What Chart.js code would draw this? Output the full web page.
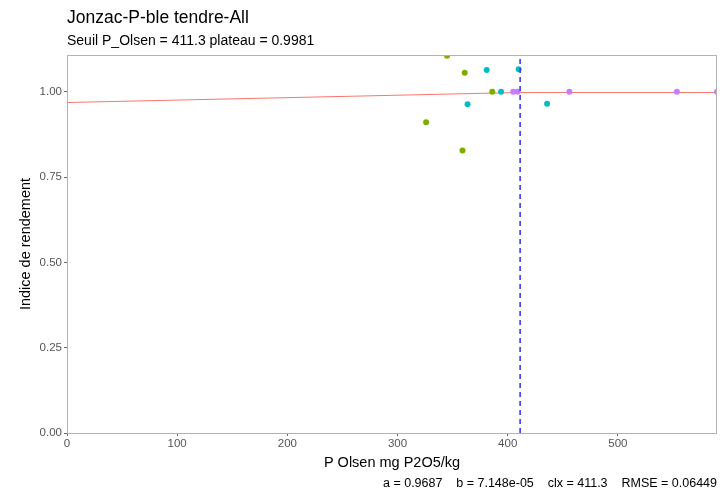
<!DOCTYPE html>
<html>
<head>
<meta charset="utf-8">
<script src="https://cdn.jsdelivr.net/npm/chart.js@4"></script>
<style>
  html, body { margin: 0; padding: 0; background: #fff; }
  #wrap { width: 720px; height: 492px; position: relative; }
</style>
</head>
<body>
<div id="wrap"><canvas id="chart"></canvas></div>
<script>
// ---- Data ----
const olivePts = [
  { x: 345, y: 1.106 }, { x: 361, y: 1.056 }, { x: 386, y: 1.0 },
  { x: 326, y: 0.911 }, { x: 359, y: 0.828 }
];
const cyanPts = [
  { x: 381, y: 1.064 }, { x: 410, y: 1.066 }, { x: 394, y: 1.0 },
  { x: 363.6, y: 0.964 }, { x: 435.8, y: 0.965 }
];
const purplePts = [
  { x: 405, y: 1.0 }, { x: 409, y: 1.0 }, { x: 456, y: 1.0 },
  { x: 553.6, y: 1.0 }, { x: 590, y: 1.0 }
];
// linear-plateau fit: a + b*x up to clx, then plateau
const fitLine = [ { x: 0, y: 0.9687 }, { x: 411.3, y: 0.9981 }, { x: 590, y: 0.9981 } ];
const seuilLine = [ { x: 411.3, y: 0 }, { x: 411.3, y: 1.108 } ];

const xTicks = [0, 100, 200, 300, 400, 500];
const yTicks = [0, 0.25, 0.5, 0.75, 1.0];

const titleText    = 'Jonzac-P-ble tendre-All';
const subtitleText = 'Seuil P_Olsen = 411.3 plateau = 0.9981';
const captionText  = 'a = 0.9687    b = 7.148e-05    clx = 411.3    RMSE = 0.06449';
const xTitle = 'P Olsen mg P2O5/kg';
const yTitle = 'Indice de rendement';

const FONT = '"Liberation Sans", Arial, sans-serif';

// ---- Texts + panel border drawn by hand (ggplot look) ----
const decor = {
  id: 'decor',
  afterDraw(chart) {
    const ctx = chart.ctx;
    const a = chart.chartArea;
    ctx.save();
    // panel border
    ctx.strokeStyle = '#b3b3b3';
    ctx.lineWidth = 1;
    ctx.strokeRect(a.left + 0.5, a.top + 0.5, a.right - a.left - 1, a.bottom - a.top);
    ctx.fillStyle = '#000';
    ctx.textAlign = 'left';
    ctx.textBaseline = 'alphabetic';
    ctx.font = '17.5px ' + FONT;
    ctx.fillText(titleText, a.left, 23);
    ctx.font = '14px ' + FONT;
    ctx.fillText(subtitleText, a.left, 45);
    // axis titles
    ctx.textAlign = 'center';
    ctx.font = '14.5px ' + FONT;
    ctx.fillText(xTitle, (a.left + a.right) / 2, 467);
    ctx.save();
    ctx.translate(30, (a.top + a.bottom) / 2);
    ctx.rotate(-Math.PI / 2);
    ctx.fillText(yTitle, 0, 0);
    ctx.restore();
    // caption
    ctx.textAlign = 'right';
    ctx.font = '12.5px ' + FONT;
    ctx.fillText(captionText, a.right, 487);
    ctx.restore();
  }
};

const ptStyle = c => ({
  type: 'scatter', backgroundColor: c, borderColor: c,
  pointRadius: 3, pointBorderWidth: 0, pointHoverRadius: 3, order: 1
});

new Chart(document.getElementById('chart'), {
  data: {
    datasets: [
      { ...ptStyle('#7CAE00'), data: olivePts },
      { ...ptStyle('#00BFC4'), data: cyanPts },
      { ...ptStyle('#C77CFF'), data: purplePts },
      { type: 'line', data: fitLine, borderColor: '#F8766D', borderWidth: 1,
        pointRadius: 0, fill: false, tension: 0, order: 2 },
      { type: 'line', data: seuilLine, borderColor: '#3b3bf5', borderWidth: 1.6,
        borderDash: [5, 4], pointRadius: 0, fill: false, order: 0 }
    ]
  },
  options: {
    responsive: true,
    maintainAspectRatio: false,
    animation: false,
    events: [],
    layout: { padding: { left: 0, top: 55, right: 2, bottom: 0 } },
    plugins: { legend: { display: false }, tooltip: { enabled: false } },
    scales: {
      x: {
        type: 'linear', min: 0, max: 590,
        afterFit: s => { s.height = 59; },
        afterBuildTicks: s => { s.ticks = xTicks.map(v => ({ value: v })); },
        grid: { drawOnChartArea: false, drawTicks: true, tickLength: 3, color: '#666' },
        border: { display: false },
        ticks: { color: '#555', font: { family: FONT, size: 11.5 }, padding: 1,
                 callback: v => String(v) }
      },
      y: {
        type: 'linear', min: 0, max: 1.108,
        afterFit: s => { s.width = 67; },
        afterBuildTicks: s => { s.ticks = yTicks.map(v => ({ value: v })); },
        grid: { drawOnChartArea: false, drawTicks: true, tickLength: 3, color: '#666' },
        border: { display: false },
        ticks: { color: '#555', font: { family: FONT, size: 11.5 }, padding: 2,
                 callback: v => v.toFixed(2) }
      }
    }
  },
  plugins: [decor]
});
</script>
</body>
</html>
